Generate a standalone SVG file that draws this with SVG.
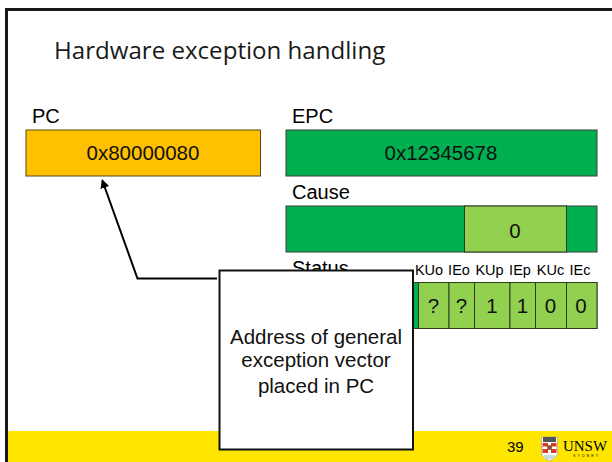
<svg xmlns="http://www.w3.org/2000/svg" width="612" height="462" viewBox="0 0 612 462">
<style>
text{font-family:"Liberation Sans",Arial,sans-serif;fill:#000}
.l{font-size:20px}
.v{font-size:20.500px;text-anchor:middle;fill:#111}
.s{font-size:14.500px;text-anchor:middle}
.g{fill:#00b050;stroke:#3c3c3c;stroke-width:1}
.lg{fill:#92d050;stroke:#2c3c20;stroke-width:1}
</style>
<defs><marker id="ah" markerWidth="9" markerHeight="9" refX="7" refY="4.500" orient="auto" markerUnits="userSpaceOnUse"><path d="M0 0L9 4.500L0 9Z" fill="#000"/></marker></defs>
<rect width="612" height="462" fill="#fff"/>
<rect x="7" y="431" width="605" height="31" fill="#ffe600"/>
<path d="M6.500 462V9.500H612" fill="none" stroke="#1a1a1a" stroke-width="3"/>
<text x="54" y="59" style="font-family:'Open Sans','Noto Sans',sans-serif;font-size:24.100px;fill:#1a1a1a">Hardware exception handling</text>
<g id="pc"><text class="l" x="32" y="122.500">PC</text><rect x="26" y="130" width="234.500" height="46" fill="#ffc000" stroke="#5a4a10"/><text class="v" x="143" y="160">0x80000080</text></g>
<g id="epc"><text class="l" x="292" y="122.500">EPC</text><rect class="g" x="286" y="130" width="311" height="46"/><text class="v" x="441" y="160">0x12345678</text></g>
<g id="cause"><text class="l" x="292" y="198.500">Cause</text><rect class="g" x="286" y="206" width="311" height="46"/><rect class="lg" x="464.500" y="206" width="102" height="46"/><text class="v" x="515" y="237.500">0</text></g>
<g id="status"><text class="l" x="292" y="274.500">Status</text><rect class="g" x="286" y="282.500" width="311" height="46"/>
<rect class="lg" x="418.500" y="282.500" width="30.500" height="46"/><rect class="lg" x="449" y="282.500" width="25.500" height="46"/><rect class="lg" x="474.500" y="282.500" width="35.500" height="46"/><rect class="lg" x="510" y="282.500" width="25.500" height="46"/><rect class="lg" x="535.500" y="282.500" width="31" height="46"/><rect class="lg" x="566.500" y="282.500" width="30.500" height="46"/>
<text class="v" x="433.500" y="313">?</text><text class="v" x="461.500" y="313">?</text><text class="v" x="492" y="313">1</text><text class="v" x="522.500" y="313">1</text><text class="v" x="550.500" y="313">0</text><text class="v" x="581" y="313">0</text>
<text class="s" x="429" y="275">KUo</text><text class="s" x="459" y="275">IEo</text><text class="s" x="489.500" y="275">KUp</text><text class="s" x="520" y="275">IEp</text><text class="s" x="550.500" y="275">KUc</text><text class="s" x="580" y="275">IEc</text></g>
<g id="connectors"><path d="M217 278.500H137.500L102.500 181" fill="none" stroke="#000" stroke-width="2" marker-end="url(#ah)"/></g>
<g id="callout"><rect x="219.500" y="270.500" width="193.500" height="179" fill="#fff" stroke="#111" stroke-width="2"/>
<text class="v" x="316" y="344">Address of general</text><text class="v" x="316" y="367">exception vector</text><text class="v" x="316" y="393">placed in PC</text></g>
<g id="footer"><text x="507" y="452" style="font-size:15px">39</text>
<g id="logo"><path d="M541.500 437H557.500V453Q557.500 457 549.500 461Q541.500 457 541.500 453Z" fill="#fff" stroke="#999" stroke-width=".6"/><rect x="543" y="437" width="13" height="5" fill="#555"/><rect x="542.500" y="443" width="14" height="10" fill="#d8392b"/><rect x="548" y="443" width="3" height="10" fill="#fff"/><rect x="542.500" y="446.500" width="14" height="2.500" fill="#fff"/><circle cx="549.500" cy="447.500" r="2.500" fill="#8a5a2b"/><rect x="544" y="455" width="11" height="4" fill="#cfd8d8"/>
<text x="563" y="451" style="font-family:'Liberation Serif',serif;font-size:14px" textLength="44" lengthAdjust="spacingAndGlyphs">UNSW</text><text x="573" y="457" style="font-size:3.500px" textLength="25">SYDNEY</text></g></g>
</svg>
